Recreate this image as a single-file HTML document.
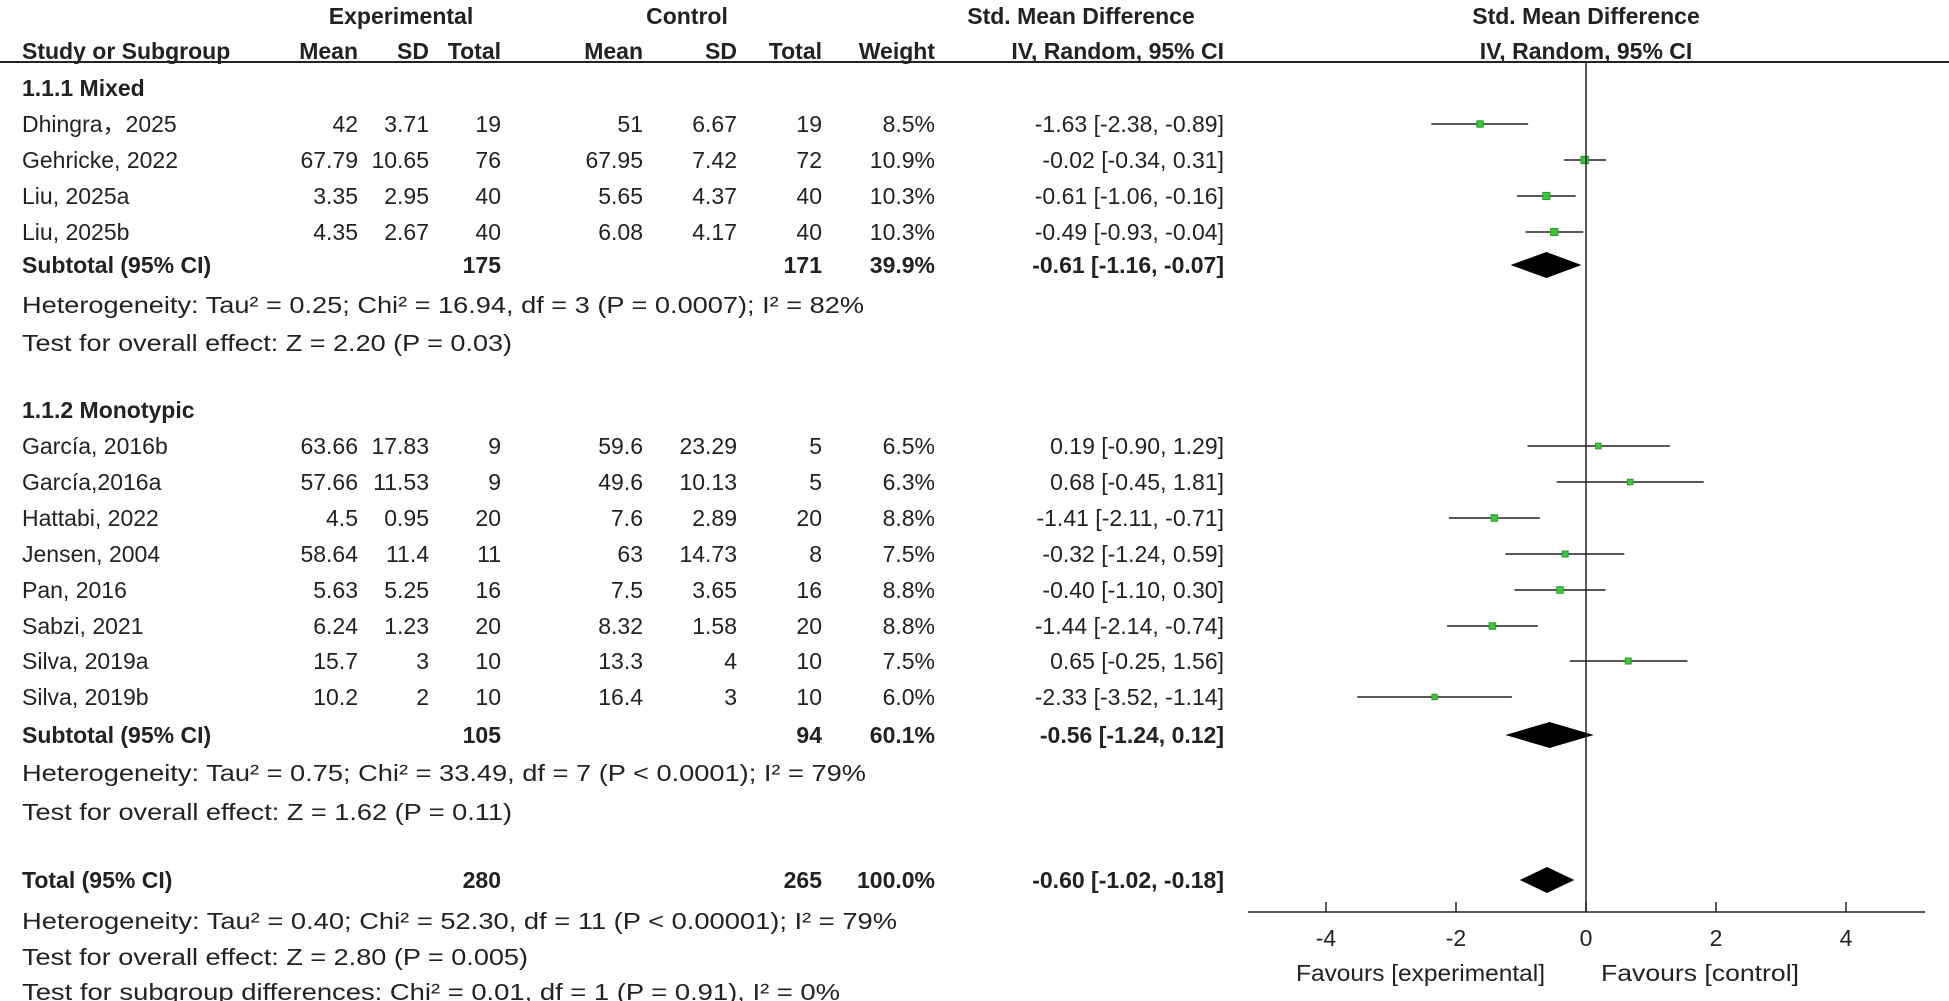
<!DOCTYPE html>
<html><head><meta charset="utf-8"><style>
html,body{margin:0;padding:0;background:#fff;}
svg{display:block;font-family:"Liberation Sans",Arial,sans-serif;}
text{font-size:23px;fill:#222;}
.b{font-weight:bold;}
</style></head><body>
<svg id="fp" width="1949" height="1001" viewBox="0 0 1949 1001">
<g id="tbl"></g>
<g id="plot"></g>
</svg>
<script>
const studies = ["Dhingra，2025","Gehricke, 2022","Liu, 2025a","Liu, 2025b","García, 2016b","García,2016a","Hattabi, 2022","Jensen, 2004","Pan, 2016","Sabzi, 2021","Silva, 2019a","Silva, 2019b"];
const expMean = ["42","67.79","3.35","4.35","63.66","57.66","4.5","58.64","5.63","6.24","15.7","10.2"];
const expSD = ["3.71","10.65","2.95","2.67","17.83","11.53","0.95","11.4","5.25","1.23","3","2"];
const expN = [19,76,40,40,9,9,20,11,16,20,10,10];
const ctlMean = ["51","67.95","5.65","6.08","59.6","49.6","7.6","63","7.5","8.32","13.3","16.4"];
const ctlSD = ["6.67","7.42","4.37","4.17","23.29","10.13","2.89","14.73","3.65","1.58","4","3"];
const ctlN = [19,72,40,40,5,5,20,8,16,20,10,10];
const weights = [8.5,10.9,10.3,10.3,6.5,6.3,8.8,7.5,8.8,8.8,7.5,6.0];
const smd = [-1.63,-0.02,-0.61,-0.49,0.19,0.68,-1.41,-0.32,-0.40,-1.44,0.65,-2.33];
const lower = [-2.38,-0.34,-1.06,-0.93,-0.90,-0.45,-2.11,-1.24,-1.10,-2.14,-0.25,-3.52];
const upper = [-0.89,0.31,-0.16,-0.04,1.29,1.81,-0.71,0.59,0.30,-0.74,1.56,-1.14];
const studyRowY = [124,160,196,232,446,482,518,554,590,626,661,697];
const pooledLabels = ["Subtotal (95% CI)","Subtotal (95% CI)","Total (95% CI)"];
const pooledExpN = [175,105,280];
const pooledCtlN = [171,94,265];
const pooledW = ["39.9%","60.1%","100.0%"];
const pooledEst = [-0.61,-0.56,-0.60];
const pooledLo = [-1.16,-1.24,-1.02];
const pooledHi = [-0.07,0.12,-0.18];
const pooledY = [265,735,880];
const xTicks = [-4,-2,0,2,4];

const NS="http://www.w3.org/2000/svg";
const tbl=document.getElementById('tbl'), plot=document.getElementById('plot');
const X0=1586, PX=65;
function xs(v){return X0+v*PX;}
function fmt(v){return v.toFixed(2);}
function txt(parent,x,y,s,anchor,bold,name,len){
  const t=document.createElementNS(NS,'text');
  t.setAttribute('x',x);t.setAttribute('y',y+8);
  if(anchor)t.setAttribute('text-anchor',anchor);
  if(bold)t.setAttribute('class','b');
  if(len){t.setAttribute('textLength',len);t.setAttribute('lengthAdjust','spacingAndGlyphs');}
  t.textContent=s;
  
  
  parent.appendChild(t);return t;
}
function el(parent,tag,attrs,name){
  const e=document.createElementNS(NS,tag);
  for(const k in attrs)e.setAttribute(k,attrs[k]);
  
  
  parent.appendChild(e);return e;
}
txt(tbl,401,16,"Experimental","middle",true,"experimental-header");
txt(tbl,687,16,"Control","middle",true,"control-header");
txt(tbl,1081,16,"Std. Mean Difference","middle",true,"smd-header");
txt(tbl,1586,16,"Std. Mean Difference","middle",true,"plot-header");
txt(tbl,22,51,"Study or Subgroup","start",true,"study-column-header");
const colR=[358,429,501,643,737,822,935];
const colH=["Mean","SD","Total","Mean","SD","Total","Weight"];
colH.forEach((h,i)=>txt(tbl,colR[i],51,h,"end",true,"column-header-"+h.toLowerCase()));
txt(tbl,1224,51,"IV, Random, 95% CI","end",true,"ci-column-header");
txt(tbl,1586,51,"IV, Random, 95% CI","middle",true,"plot-ci-header");
el(tbl,'line',{x1:0,y1:62,x2:1949,y2:62,stroke:'#222','stroke-width':2},'header-rule');
txt(tbl,22,88,"1.1.1 Mixed","start",true,"subgroup-mixed-label");
txt(tbl,22,410,"1.1.2 Monotypic","start",true,"subgroup-monotypic-label");
studies.forEach((s,i)=>{
  const y=studyRowY[i];
  txt(tbl,22,y,s,"start",false,"study-name");
  const vals=[expMean[i],expSD[i],expN[i],ctlMean[i],ctlSD[i],ctlN[i],weights[i].toFixed(1)+"%"];
  vals.forEach((v,j)=>txt(tbl,colR[j],y,String(v),"end",false,"study-value"));
  txt(tbl,1224,y,fmt(smd[i])+" ["+fmt(lower[i])+", "+fmt(upper[i])+"]","end",false,"study-ci");
  el(plot,'line',{x1:xs(lower[i]),y1:y,x2:xs(upper[i]),y2:y,stroke:'#222','stroke-width':1.5},'ci-line');
  const sz=3+weights[i]*0.4;
  el(plot,'rect',{x:xs(smd[i])-sz/2,y:y-sz/2,width:sz,height:sz,fill:'#3cc83c',stroke:'#2a9a2a','stroke-width':1},'effect-marker');
});
pooledLabels.forEach((l,i)=>{
  const y=pooledY[i];
  txt(tbl,22,y,l,"start",true,"pooled-label");
  txt(tbl,colR[2],y,String(pooledExpN[i]),"end",true,"pooled-exp-total");
  txt(tbl,colR[5],y,String(pooledCtlN[i]),"end",true,"pooled-ctl-total");
  txt(tbl,colR[6],y,pooledW[i],"end",true,"pooled-weight");
  txt(tbl,1224,y,fmt(pooledEst[i])+" ["+fmt(pooledLo[i])+", "+fmt(pooledHi[i])+"]","end",true,"pooled-ci");
  const h=13;
  el(plot,'polygon',{points:`${xs(pooledLo[i])},${y} ${xs(pooledEst[i])},${y-h} ${xs(pooledHi[i])},${y} ${xs(pooledEst[i])},${y+h}`,fill:'#000'},'pooled-diamond');
});
const stats=[[305,"Heterogeneity: Tau² = 0.25; Chi² = 16.94, df = 3 (P = 0.0007); I² = 82%",842],
[343,"Test for overall effect: Z = 2.20 (P = 0.03)",490],
[773,"Heterogeneity: Tau² = 0.75; Chi² = 33.49, df = 7 (P < 0.0001); I² = 79%",844],
[812,"Test for overall effect: Z = 1.62 (P = 0.11)",490],
[921,"Heterogeneity: Tau² = 0.40; Chi² = 52.30, df = 11 (P < 0.00001); I² = 79%",875],
[957,"Test for overall effect: Z = 2.80 (P = 0.005)",506],
[992,"Test for subgroup differences: Chi² = 0.01, df = 1 (P = 0.91), I² = 0%",818]];
stats.forEach(s=>txt(tbl,22,s[0],s[1],"start",false,"statistics-text",s[2]));
el(plot,'line',{x1:X0,y1:62,x2:X0,y2:912,stroke:'#222','stroke-width':1.5},'zero-line');
el(plot,'line',{x1:1248,y1:912,x2:1925,y2:912,stroke:'#222','stroke-width':1.5},'x-axis');
xTicks.forEach(t=>{
  el(plot,'line',{x1:xs(t),y1:902,x2:xs(t),y2:912,stroke:'#222','stroke-width':1.5},'x-tick');
  txt(plot,xs(t),938,t<0?"-"+Math.abs(t):String(t),"middle",false,"x-tick-label");
});
txt(plot,1296,973,"Favours [experimental]","start",false,"favours-experimental-label",249);
txt(plot,1601,973,"Favours [control]","start",false,"favours-control-label",198);
</script>
</body></html>
